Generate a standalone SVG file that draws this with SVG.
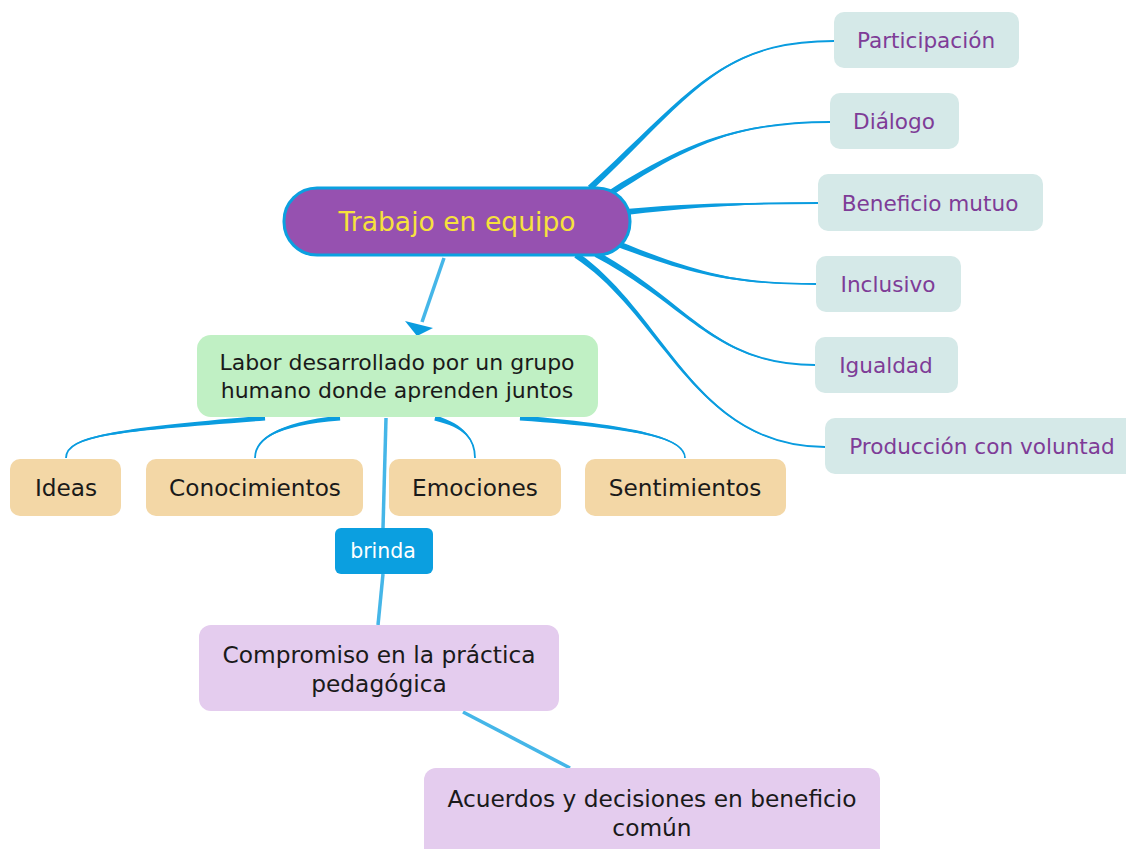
<svg xmlns="http://www.w3.org/2000/svg" width="1126" height="849" viewBox="0 0 1126 849">
<style>
  text { font-family: "DejaVu Sans", Verdana, sans-serif; text-anchor: middle; }
  .taper { fill: #0A9CDF; stroke: none; }
  .thin { fill: none; stroke: #0A9CDF; stroke-width: 1.8; }
  .link { fill: none; stroke: #45B6E8; stroke-width: 3.5; }
  .rnode { fill: #D5E9E8; }
  .rtext { fill: #7E3C97; font-size: 21.6px; }
  .onode { fill: #F3D7A6; }
  .otext { fill: #1A1A1A; font-size: 23.2px; }
  .gtext { fill: #1A1A1A; font-size: 22px; }
  .pnode { fill: #E4CCEE; }
  .ptext { fill: #1A1A1A; font-size: 23.3px; }
</style>

<g id="connectors">
  <!-- root to right nodes -->
  <g>
    <path class="thin" d="M590,188 C690,95 720,41 834,41"/>
    <path class="taper" d="M592.04,190.2 C691.23,96.32 720.41,41.44 834,41 C719.59,40.56 688.77,93.68 587.96,185.8 Z"/>
    <path class="thin" d="M612,192 C690,142 740,122 830,122"/>
    <path class="taper" d="M613.62,194.53 C690.97,143.52 740.32,122.51 830,122 C739.68,121.49 689.03,140.48 610.38,189.47 Z"/>
    <path class="thin" d="M626,212 C700,204 760,203 818,203"/>
    <path class="taper" d="M626.32,214.98 C700.19,205.79 760.06,203.6 818,203 C759.94,202.4 699.81,202.21 625.68,209.02 Z"/>
    <path class="thin" d="M618,244 C700,276 740,284 816,284"/>
    <path class="taper" d="M616.91,246.8 C699.34,277.68 739.78,284.56 816,284 C740.22,283.44 700.66,274.32 619.09,241.2 Z"/>
    <path class="thin" d="M596,254 C690,305 715,365 815,365"/>
    <path class="taper" d="M594.57,256.64 C689.14,306.58 714.71,365.53 815,365 C715.29,364.47 690.86,303.42 597.43,251.36 Z"/>
    <path class="thin" d="M576,255 C665,315 695,447 825,447"/>
    <path class="taper" d="M574.32,257.49 C663.99,316.49 694.66,447.5 825,447 C695.34,446.5 666.01,313.51 577.68,252.51 Z"/>
  </g>
  <!-- Labor to orange nodes -->
  <g>
    <path class="thin" d="M265,418 C120,430 66,435 66,458"/>
    <path class="taper" d="M264.79,415.51 C119.88,428.5 65.96,434.5 66,458 C66.04,435.5 120.12,431.5 265.21,420.49 Z"/>
    <path class="thin" d="M340,418 C275,424 255,440 255,458"/>
    <path class="taper" d="M339.77,415.51 C274.86,422.51 254.95,439.5 255,458 C255.05,440.5 275.14,425.49 340.23,420.49 Z"/>
    <path class="thin" d="M435,418 C465,426 475,440 475,458"/>
    <path class="taper" d="M434.35,420.42 C464.61,427.45 474.87,440.48 475,458 C475.13,439.52 465.39,424.55 435.65,415.58 Z"/>
    <path class="thin" d="M520,418 C650,428 685,440 685,458"/>
    <path class="taper" d="M519.81,420.49 C649.88,429.5 684.96,440.5 685,458 C685.04,439.5 650.12,426.5 520.19,415.51 Z"/>
  </g>
  <!-- root to Labor arrow -->
  <line class="link" x1="444" y1="258" x2="422" y2="322"/>
  <path d="M405,321 L433,328 L417,336 Z" fill="#0A9CDF"/>
  <!-- Labor to Compromiso via brinda -->
  <path class="link" d="M386,418 L383,528"/>
  <path class="link" d="M383,574 L378,625"/>
  <!-- Compromiso to Acuerdos -->
  <path class="link" d="M463,712 L570,768" stroke-width="4.5"/>
</g>

<g id="node-root">
  <rect x="284" y="188" width="346" height="67" rx="33" fill="#9651B0" stroke="#0BA0E0" stroke-width="3"/>
  <text x="457" y="231" font-size="26.6px" fill="#F6E23C">Trabajo en equipo</text>
</g>

<g id="node-participacion">
  <rect class="rnode" x="834" y="12" width="185" height="56" rx="10"/>
  <text class="rtext" x="926" y="48">Participación</text>
</g>
<g id="node-dialogo">
  <rect class="rnode" x="830" y="93" width="129" height="56" rx="10"/>
  <text class="rtext" x="894" y="129">Diálogo</text>
</g>
<g id="node-beneficio">
  <rect class="rnode" x="818" y="174" width="225" height="57" rx="10"/>
  <text class="rtext" x="930" y="211">Beneficio mutuo</text>
</g>
<g id="node-inclusivo">
  <rect class="rnode" x="816" y="256" width="145" height="56" rx="10"/>
  <text class="rtext" x="888" y="292">Inclusivo</text>
</g>
<g id="node-igualdad">
  <rect class="rnode" x="815" y="337" width="143" height="56" rx="10"/>
  <text class="rtext" x="886" y="373">Igualdad</text>
</g>
<g id="node-produccion">
  <rect class="rnode" x="825" y="418" width="310" height="56" rx="10"/>
  <text class="rtext" x="982" y="454">Producción con voluntad</text>
</g>

<g id="node-labor">
  <rect x="197" y="335" width="401" height="82" rx="14" fill="#C0F0C4"/>
  <text class="gtext" x="397" y="370">Labor desarrollado por un grupo</text>
  <text class="gtext" x="397" y="398">humano donde aprenden juntos</text>
</g>

<g id="node-ideas">
  <rect class="onode" x="10" y="459" width="111" height="57" rx="10"/>
  <text class="otext" x="66" y="496">Ideas</text>
</g>
<g id="node-conocimientos">
  <rect class="onode" x="146" y="459" width="217" height="57" rx="10"/>
  <text class="otext" x="255" y="496">Conocimientos</text>
</g>
<g id="node-emociones">
  <rect class="onode" x="389" y="459" width="172" height="57" rx="10"/>
  <text class="otext" x="475" y="496">Emociones</text>
</g>
<g id="node-sentimientos">
  <rect class="onode" x="585" y="459" width="201" height="57" rx="10"/>
  <text class="otext" x="685" y="496">Sentimientos</text>
</g>

<g id="label-brinda">
  <rect x="335" y="528" width="98" height="46" rx="6" fill="#0B9FE0"/>
  <text x="383" y="558" font-size="20.5px" fill="#FFFFFF">brinda</text>
</g>

<g id="node-compromiso">
  <rect class="pnode" x="199" y="625" width="360" height="86" rx="12"/>
  <text class="ptext" x="379" y="663">Compromiso en la práctica</text>
  <text class="ptext" x="379" y="692">pedagógica</text>
</g>

<g id="node-acuerdos">
  <rect class="pnode" x="424" y="768" width="456" height="95" rx="12"/>
  <text class="ptext" x="652" y="807">Acuerdos y decisiones en beneficio</text>
  <text class="ptext" x="652" y="836">común</text>
</g>
</svg>
